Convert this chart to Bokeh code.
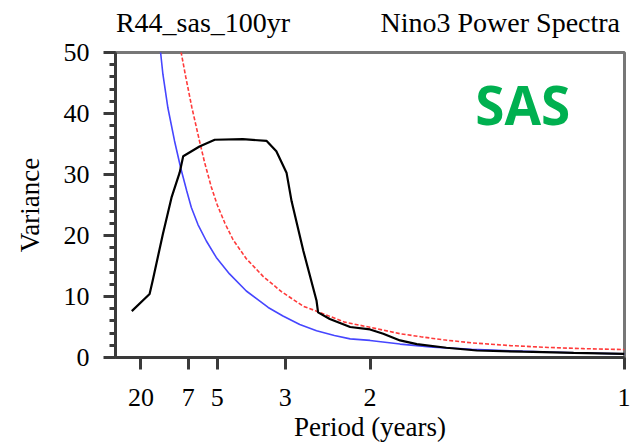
from bokeh.plotting import figure
from bokeh.models import FixedTicker, Label, Range1d, LinearAxis
from bokeh.embed import file_html
from bokeh.resources import INLINE

# Data (x = frequency in cycles/year, tick labels are periods)
period_ticks = [20, 7, 5, 3, 2, 1]
period_labels = ["20", "7", "5", "3", "2", "1"]
left_title = "R44_sas_100yr"
right_title = "Nino3 Power Spectra"

black_freq = [0.032, 0.067, 0.073, 0.093, 0.110, 0.126, 0.133, 0.165, 0.195, 0.25, 0.297,
              0.316, 0.336, 0.346, 0.369, 0.395, 0.398, 0.421, 0.461, 0.5, 0.526, 0.559,
              0.592, 0.65, 0.71, 0.8, 0.9, 1.0]
black_var = [7.6, 10.4, 12.6, 20.2, 26.2, 30.3, 33.0, 34.6, 35.7, 35.8, 35.5,
             33.8, 30.3, 25.6, 17.5, 9.3, 7.4, 6.3, 5.0, 4.6, 3.9, 2.8,
             2.2, 1.6, 1.15, 0.95, 0.75, 0.6]

red_freq = [0.12, 0.129, 0.138, 0.15, 0.165, 0.175, 0.188, 0.2, 0.215, 0.231, 0.257, 0.29,
            0.326, 0.369, 0.395, 0.45, 0.5, 0.559, 0.6, 0.644, 0.7, 0.776, 0.85, 0.92, 1.0]
red_var = [55, 50, 46, 41, 35.5, 32, 28, 25, 22, 19.3, 16.2, 13.3,
           10.8, 8.4, 7.6, 5.8, 4.95, 3.9, 3.4, 2.9, 2.4, 1.95, 1.65, 1.45, 1.3]

blue_freq = [0.083, 0.0886, 0.0932, 0.103, 0.116, 0.128, 0.14, 0.149, 0.162, 0.1785, 0.198,
             0.224, 0.257, 0.3, 0.329, 0.362, 0.395, 0.43, 0.461, 0.5, 0.559, 0.624, 0.7,
             0.776, 0.85, 0.92, 1.0]
blue_var = [55, 50, 46.4, 40.9, 35.5, 31.1, 27.3, 24.6, 21.8, 19.1, 16.4,
            13.7, 10.9, 8.2, 6.8, 5.4, 4.4, 3.6, 3.05, 2.8, 2.2, 1.7, 1.35,
            1.1, 0.9, 0.75, 0.6]

SERIF = "Liberation Serif"

p = figure(width=630, height=445, output_backend="svg", toolbar_location=None,
           x_range=Range1d(0, 1), y_range=Range1d(0, 50),
           min_border_left=115, min_border_right=6, min_border_top=52, min_border_bottom=88)
p.background_fill_color = "white"
p.border_fill_color = "white"
p.xgrid.visible = False
p.ygrid.visible = False
p.outline_line_color = "#777777"
p.outline_line_width = 3

p.line(blue_freq, blue_var, line_color="#4646ff", line_width=1.6)
p.line(red_freq, red_var, line_color="#ff3a3a", line_width=1.6, line_dash="4 2")
p.line(black_freq, black_var, line_color="black", line_width=2.2)

# x axis
xa = p.xaxis[0]
xa.ticker = FixedTicker(ticks=[1.0 / t for t in period_ticks], minor_ticks=[])
xa.major_label_overrides = {1.0 / t: l for t, l in zip(period_ticks, period_labels)}
xa.axis_label = "Period (years)"
# y axis
ya = p.yaxis[0]
ya.ticker = FixedTicker(ticks=[0, 10, 20, 30, 40, 50],
                        minor_ticks=[v for v in range(0, 51, 2)])
ya.axis_label = "Variance"

for ax in (xa, ya):
    ax.axis_line_color = "#3a3a3a"
    ax.axis_line_width = 3
    ax.major_tick_line_color = "#3a3a3a"
    ax.major_tick_line_width = 3
    ax.minor_tick_line_color = "#3a3a3a"
    ax.minor_tick_line_width = 3
    ax.major_tick_in = 0
    ax.major_tick_out = 12
    ax.minor_tick_in = 0
    ax.minor_tick_out = 6
    ax.major_label_text_font = SERIF
    ax.major_label_text_font_size = "26px"
    ax.major_label_text_color = "black"
    ax.axis_label_text_font = SERIF
    ax.axis_label_text_font_size = "27px"
    ax.axis_label_text_font_style = "normal"
    ax.axis_label_text_color = "black"
    ax.major_label_standoff = 14
xa.major_label_standoff = 19
xa.axis_label_standoff = 3
ya.axis_label_standoff = 16

# top "axis" carrying the two header texts as tick labels
title_pos = [0.172, 0.756]
top = LinearAxis(ticker=FixedTicker(ticks=title_pos, minor_ticks=[]),
                 major_label_overrides={title_pos[0]: left_title, title_pos[1]: right_title},
                 axis_line_color=None, major_tick_line_color=None, minor_tick_line_color=None,
                 major_tick_in=0, major_tick_out=0,
                 major_label_text_font=SERIF, major_label_text_font_size="28px",
                 major_label_text_color="black", major_label_standoff=15)
p.add_layout(top, "above")

p.add_layout(Label(x=0.707, y=41.4, text="SAS", text_font="Open Sans",
                   text_font_size="53px", text_font_style="bold", text_align="left",
                   text_baseline="alphabetic", text_color="#00b050"))

open("out.html", "w").write(file_html(p, INLINE))
